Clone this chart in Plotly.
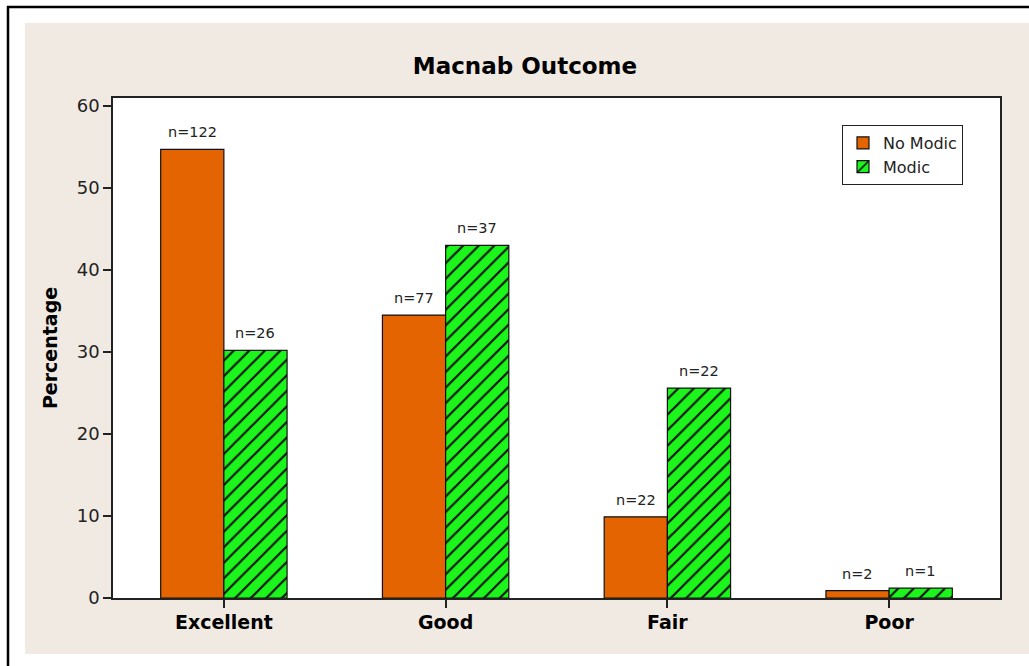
import plotly.graph_objects as go

categories = ["Excellent", "Good", "Fair", "Poor"]
no_modic_pct = [54.7, 34.5, 9.9, 0.9]
modic_pct = [30.2, 43.0, 25.6, 1.2]
no_modic_n = ["n=122", "n=77", "n=22", "n=2"]
modic_n = ["n=26", "n=37", "n=22", "n=1"]
y_ticks = [0, 10, 20, 30, 40, 50, 60]

FONT = "DejaVu Sans"
ORANGE = "#E36400"
GREEN = "#1CF51C"

fig = go.Figure()
fig.add_trace(go.Bar(
    name="No Modic", x=categories, y=no_modic_pct,
    marker=dict(color=ORANGE, line=dict(color="#111", width=1.2)),
))
fig.add_trace(go.Bar(
    name="Modic", x=categories, y=modic_pct,
    marker=dict(color=GREEN, line=dict(color="#111", width=1.2),
                pattern=dict(shape="/", fgcolor="#111", bgcolor=GREEN,
                             size=11, solidity=0.2, fillmode="replace")),
))

annotations = []
bw = 31.5
for cat, v, t in zip(categories, no_modic_pct, no_modic_n):
    annotations.append(dict(x=cat, y=v, text=t, xref="x", yref="y", showarrow=False,
                            yanchor="bottom", xshift=-bw, yshift=7,
                            font=dict(family=FONT, size=14.5, color="#222")))
for cat, v, t in zip(categories, modic_pct, modic_n):
    annotations.append(dict(x=cat, y=v, text=t, xref="x", yref="y", showarrow=False,
                            yanchor="bottom", xshift=bw, yshift=7,
                            font=dict(family=FONT, size=14.5, color="#222")))

L, R, T, B = 113, 29, 98, 68
W, H = 1029, 666
pw, ph = W - L - R, H - T - B
def px(x):
    return (x - L) / pw
def py(y):
    return 1 - (y - T) / ph

shapes = [
    dict(type="rect", xref="paper", yref="paper", x0=px(25), x1=px(1040), y0=py(654), y1=py(23),
         fillcolor="#F0EAE2", line=dict(width=0), layer="below"),
    dict(type="rect", xref="paper", yref="paper", x0=0, x1=1, y0=0, y1=1,
         fillcolor="white", line=dict(width=0), layer="below"),
    dict(type="rect", xref="paper", yref="paper", x0=px(8), x1=px(1060), y0=py(700), y1=py(7),
         fillcolor="rgba(0,0,0,0)", line=dict(color="black", width=2.5), layer="above"),
]

fig.update_layout(
    width=W, height=H,
    margin=dict(l=L, r=R, t=T, b=B),
    paper_bgcolor="white", plot_bgcolor="white",
    barmode="group", bargap=0.43, bargroupgap=0,
    title=dict(text="<b>Macnab Outcome</b>", x=525 / W, xanchor="center",
               y=1 - 66 / H, yanchor="middle", font=dict(family=FONT, size=23, color="black")),
    font=dict(family=FONT, color="#222"),
    showlegend=True,
    legend=dict(x=px(842), y=py(125), xanchor="left", yanchor="top",
                bgcolor="white", bordercolor="#222", borderwidth=1,
                font=dict(family=FONT, size=16, color="#222"),
                itemwidth=30, tracegroupgap=0),
    shapes=shapes,
    annotations=annotations,
)
fig.update_xaxes(
    range=[-0.5, 3.5], showline=True, mirror=True, linecolor="#222", linewidth=1.5,
    ticks="outside", ticklen=8, tickcolor="#222", tickwidth=1.5, showgrid=False,
    tickfont=dict(family=FONT, size=19, color="black"), ticklabelstandoff=-2,
    tickvals=categories, ticktext=[f"<b>{c}</b>" for c in categories],
)
fig.update_yaxes(
    range=[0, 60 + 8 / 8.2], showline=True, mirror=True, linecolor="#222", linewidth=1.5,
    ticks="outside", ticklen=8, tickcolor="#222", tickwidth=1.5, showgrid=False, zeroline=False,
    tickvals=y_ticks, tickfont=dict(family=FONT, size=18, color="#222"),
    title=dict(text="<b>Percentage</b>", font=dict(family=FONT, size=19, color="black"), standoff=14),
)

fig.write_html("out.html", config={"displayModeBar": False},
               post_script="document.body.style.margin='0';")
